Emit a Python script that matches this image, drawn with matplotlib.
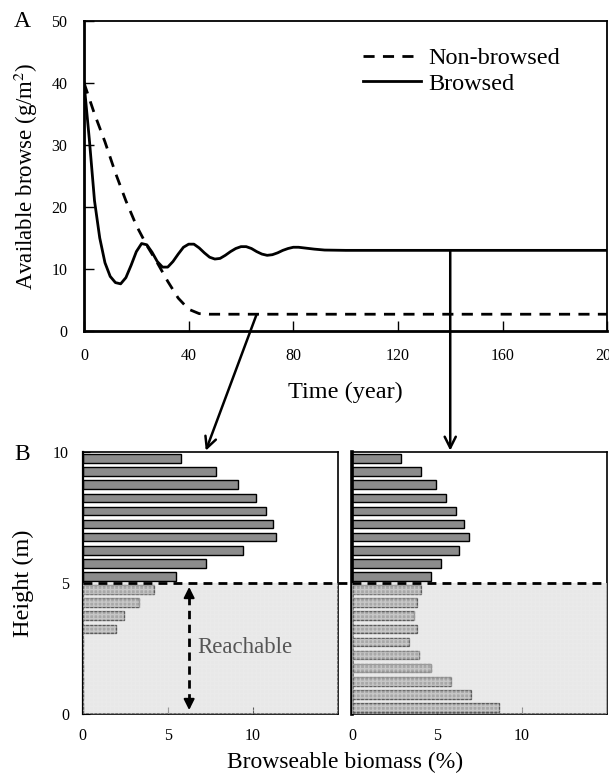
import matplotlib
matplotlib.use('Agg')
import matplotlib.pyplot as plt
import matplotlib.transforms as mtransforms
from matplotlib.patches import ConnectionPatch

# Time series of available browse (g/m2)
time_browsed = [0, 2, 4, 6, 8, 10, 12, 14, 16, 18, 20, 22, 24, 26, 28, 30,
                32, 34, 36, 38, 40, 42, 44, 46, 48, 50, 52, 54, 56, 58, 60,
                62, 64, 66, 68, 70, 72, 74, 76, 78, 80, 82, 84, 88, 92, 100,
                200]
browsed = [40, 31, 21, 15, 11, 8.8, 7.8, 7.6, 8.6, 10.6, 12.8, 14.1, 13.9,
           12.7, 11.2, 10.3, 10.3, 11.2, 12.4, 13.5, 14.0, 14.0, 13.4, 12.6,
           11.9, 11.6, 11.7, 12.2, 12.8, 13.3, 13.6, 13.6, 13.3, 12.8, 12.4,
           12.2, 12.3, 12.6, 13.0, 13.3, 13.5, 13.5, 13.4, 13.2, 13.05, 13.0,
           13.0]
time_nonbrowsed = [0, 4, 8, 12, 16, 20, 24, 28, 32, 36, 40, 44, 48, 200]
nonbrowsed = [40, 35, 30.5, 25.5, 21, 17, 13.8, 11, 8, 5.3, 3.5, 2.8, 2.7,
              2.7]

# Vertical distribution of browseable biomass (%), 0.5 m height classes
heights = [9.75, 9.25, 8.75, 8.25, 7.75, 7.25, 6.75, 6.25, 5.75, 5.25,
           4.75, 4.25, 3.75, 3.25, 2.75, 2.25, 1.75, 1.25, 0.75, 0.25]
biomass_nonbrowsed = [5.78, 7.84, 9.14, 10.18, 10.76, 11.2, 11.35, 9.43,
                      7.24, 5.47, 4.16, 3.29, 2.41, 1.96, 0, 0, 0, 0, 0, 0]
biomass_browsed = [2.88, 4.08, 4.96, 5.55, 6.14, 6.59, 6.86, 6.29, 5.24,
                   4.65, 4.06, 3.82, 3.65, 3.82, 3.35, 3.94, 4.65, 5.84,
                   7.0, 8.65]
reach_height = 5

plt.rcParams['font.family'] = ['Liberation Serif', 'DejaVu Serif']
plt.rcParams['mathtext.fontset'] = 'stix'

fig = plt.figure(figsize=(6.09, 7.76), dpi=100)
ax = fig.add_axes([0.138, 0.5735, 0.859, 0.3995])
axl = fig.add_axes([0.136, 0.0799, 0.419, 0.3376])
axr = fig.add_axes([0.578, 0.0799, 0.419, 0.3376])

# --- panel A ---
ax.plot(time_nonbrowsed, nonbrowsed, color='black', lw=2, ls=(0, (4, 3)),
        label='Non-browsed')
ax.plot(time_browsed, browsed, color='black', lw=2, label='Browsed')
ax.set_xlim(0, 200)
ax.set_ylim(0, 50)
ax.set_xticks(range(0, 201, 40))
ax.set_yticks(range(0, 51, 10))
ax.tick_params(direction='in', length=7, width=1, labelsize=11.5)
ax.tick_params(axis='y', pad=12)
ax.tick_params(axis='x', pad=12)
for side in ['left', 'bottom']:
    ax.spines[side].set_linewidth(2)
for side in ['top', 'right']:
    ax.spines[side].set_linewidth(1.3)
ax.set_xlabel('Time (year)', fontsize=17.5)
ax.xaxis.set_label_coords(0.5, -0.165)
ax.set_ylabel('Available browse (g/m$^2$)', fontsize=16.5)
ax.yaxis.set_label_coords(-0.084, 0.5)
ax.legend(loc='upper left', bbox_to_anchor=(0.51, 0.955), frameon=False,
          fontsize=17.5, handlelength=2.4, handletextpad=0.3,
          labelspacing=0.15, borderpad=0)

# --- panel B ---
for a, vals in [(axl, biomass_nonbrowsed), (axr, biomass_browsed)]:
    a.barh(heights, vals, height=0.33, color='#8c8c8c', edgecolor='black',
           lw=1, zorder=2)
    a.axhspan(0, reach_height, facecolor='#cccccc', alpha=0.45,
              hatch='++++', edgecolor='#ededed', lw=0, zorder=3)
    a.set_xlim(0, 15)
    a.set_ylim(0, 10)
    a.set_xticks([0, 5, 10])
    a.set_yticks([0, 5, 10])
    a.tick_params(direction='in', length=5, labelsize=11.5, pad=10)
    for side in ['top', 'right', 'bottom']:
        a.spines[side].set_linewidth(1.2)
axr.tick_params(axis='y', labelleft=False, length=0)
axl.spines['left'].set_linewidth(1.6)
axr.spines['left'].set_linewidth(2.6)

# reach limit drawn across both profiles
axl.plot([0, 15.85], [reach_height, reach_height], color='black', lw=2,
         ls=(0, (3.2, 2.2)), clip_on=False, zorder=4)
axr.plot([0, 15], [reach_height, reach_height], color='black', lw=2,
         ls=(0, (3.2, 2.2)), clip_on=False, zorder=4)

# reachable zone marker
axl.plot([6.25, 6.25], [0.45, 4.55], color='black', lw=2,
         ls=(0, (3, 2)), zorder=5)
for y0, y1 in [(4.5, 4.85), (0.5, 0.15)]:
    axl.annotate('', xy=(6.25, y1), xytext=(6.25, y0),
                 arrowprops=dict(arrowstyle='-|>', color='black', lw=1.5,
                                 mutation_scale=16, shrinkA=0, shrinkB=0),
                 zorder=5)
axl.text(6.75, 2.55, 'Reachable', fontsize=16.5, color='#555555',
         va='center', ha='left', zorder=5)

axl.set_ylabel('Height (m)', fontsize=17.5)
axl.yaxis.set_label_coords(-0.19, 0.5)
fig.text(0.566, 0.017, 'Browseable biomass (%)', fontsize=17,
         ha='center', va='center')

# links from the equilibrium states to the height profiles
con1 = ConnectionPatch(xyA=(66, nonbrowsed[-1]), coordsA=ax.transData,
                       xyB=(7.2, 10), coordsB=axl.transData,
                       arrowstyle='->', lw=1.8, mutation_scale=20,
                       color='black', shrinkA=0, shrinkB=1)
fig.add_artist(con1)
vert = mtransforms.blended_transform_factory(ax.transData, axr.transData)
con2 = ConnectionPatch(xyA=(140, browsed[-1]), coordsA=ax.transData,
                       xyB=(140, 10), coordsB=vert,
                       arrowstyle='->', lw=1.8, mutation_scale=20,
                       color='black', shrinkA=0, shrinkB=1)
fig.add_artist(con2)

fig.text(0.036, 0.972, 'A', fontsize=17, ha='center', va='center')
fig.text(0.036, 0.414, 'B', fontsize=17, ha='center', va='center')

fig.savefig('out.png', dpi=100)
